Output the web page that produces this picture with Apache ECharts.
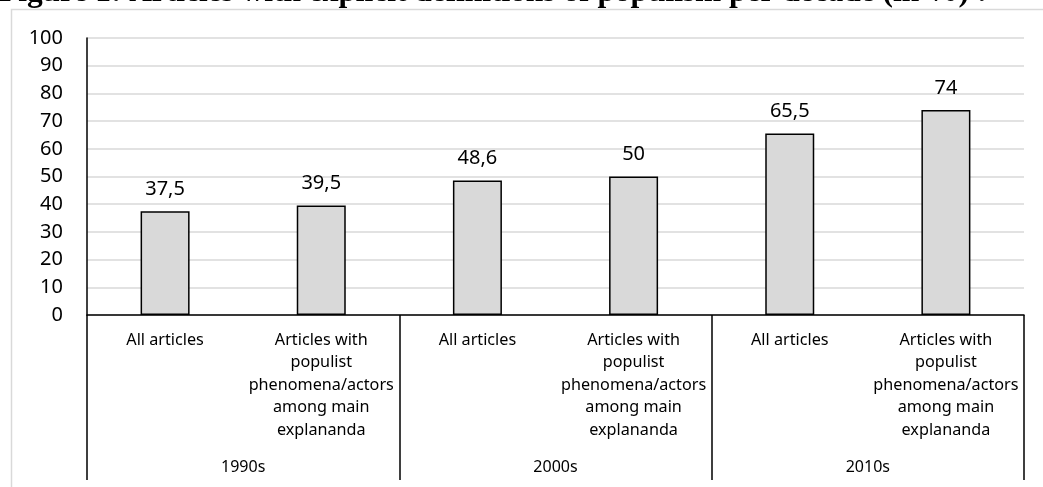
<!DOCTYPE html>
<html>
<head>
<meta charset="utf-8">
<script src="https://cdn.jsdelivr.net/npm/echarts@6/dist/echarts.min.js"></script>
<style>
  html, body { margin: 0; padding: 0; background: #ffffff; }
  #chart { width: 1043px; height: 487px; }
</style>
</head>
<body>
<div id="chart"></div>
<script>
// Share of articles with explicit definitions of populism, per decade (%)
var itemLabels = [
  'All articles',
  'Articles with\npopulist\nphenomena/actors\namong main\nexplananda',
  'All articles',
  'Articles with\npopulist\nphenomena/actors\namong main\nexplananda',
  'All articles',
  'Articles with\npopulist\nphenomena/actors\namong main\nexplananda'
];
var decades = ['1990s', '2000s', '2010s'];
var shares = [37.5, 39.5, 48.6, 50, 65.5, 74];
var yTicks = [0, 10, 20, 30, 40, 50, 60, 70, 80, 90, 100];

var titleText = 'Figure 1: Articles with explicit definitions of populism per decade (in %) :';
var sans = '"Noto Sans", "Open Sans", sans-serif';

var chart = echarts.init(document.getElementById('chart'), null, { renderer: 'canvas' });

chart.setOption({
  animation: false,
  backgroundColor: '#ffffff',
  grid: { left: 87, right: 19, top: 38, bottom: 172, containLabel: false },
  graphic: [
    {
      type: 'rect',
      shape: { x: 11.5, y: 9.5, width: 1200, height: 800 },
      style: { fill: 'none', stroke: '#d9d9d9', lineWidth: 1.5 },
      z: -1
    },
    {
      type: 'text',
      x: -1,
      y: -7,
      style: {
        text: titleText,
        font: 'bold 31.4px "Liberation Serif", "Times New Roman", serif',
        fill: '#000000',
        verticalAlign: 'middle'
      }
    }
  ],
  xAxis: [
    {
      type: 'category',
      data: itemLabels,
      position: 'bottom',
      axisLine: { show: true, lineStyle: { color: '#000000', width: 1.5 } },
      axisTick: { show: false },
      axisLabel: {
        interval: 0,
        margin: 14,
        fontFamily: sans,
        fontSize: 16.2,
        lineHeight: 22.5,
        color: '#000000',
        align: 'center',
        verticalAlign: 'top'
      },
      splitLine: { show: false }
    },
    {
      type: 'category',
      data: decades,
      position: 'bottom',
      boundaryGap: true,
      axisLine: { show: false },
      axisTick: {
        show: true,
        interval: 0,
        length: 165,
        lineStyle: { color: '#000000', width: 1.5 }
      },
      axisLabel: {
        interval: 0,
        margin: 144,
        fontFamily: sans,
        fontSize: 16,
        color: '#000000',
        verticalAlign: 'top'
      }
    }
  ],
  yAxis: {
    type: 'value',
    min: yTicks[0],
    max: yTicks[yTicks.length - 1],
    interval: 10,
    axisLine: { show: true, lineStyle: { color: '#000000', width: 1.5 } },
    axisTick: { show: false },
    axisLabel: {
      margin: 24,
      fontFamily: sans,
      fontSize: 20,
      color: '#000000'
    },
    splitLine: { show: true, lineStyle: { color: '#d9d9d9', width: 1.5 } }
  },
  series: [
    {
      type: 'bar',
      xAxisIndex: 0,
      data: shares,
      barWidth: 49,
      itemStyle: { color: '#d9d9d9', borderColor: '#000000', borderWidth: 1.5 },
      label: {
        show: true,
        position: 'top',
        distance: 12,
        fontFamily: sans,
        fontSize: 20,
        color: '#000000',
        formatter: function (p) { return String(p.value).replace('.', ','); }
      }
    }
  ]
});
</script>
</body>
</html>
